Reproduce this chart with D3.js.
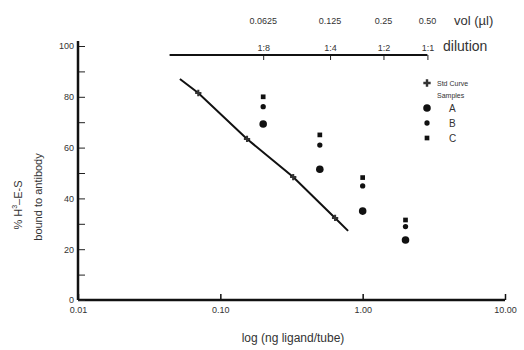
<!DOCTYPE html>
<html>
<head>
<meta charset="utf-8">
<script src="https://cdn.jsdelivr.net/npm/d3@7"></script>
<style>
  body { margin: 0; background: #fff; }
  text { font-family: "Liberation Sans", Arial, sans-serif; fill: #333; }
</style>
</head>
<body>
<svg id="chart"></svg>
<script>
// standard curve (ng ligand, % bound)
const stdNg = [0.052, 0.07, 0.154, 0.325, 0.64, 0.79];
const stdPct = [87, 81.5, 63.4, 48.4, 32.3, 27.2];
const stdMarked = [0.07, 0.154, 0.325, 0.64];

// samples
const sampleNg = [0.2, 0.5, 1.0, 2.0];
const sampleA = [69.3, 51.5, 35.0, 23.6];
const sampleB = [76.1, 61.0, 44.9, 28.9];
const sampleC = [80.0, 65.0, 48.2, 31.5];

const xTicks = [0.01, 0.1, 1, 10];
const yTicks = [0, 10, 20, 30, 40, 50, 60, 70, 80, 90, 100];

// top axis: dilution / volume
const topNg = [0.2, 0.59, 1.4, 2.85];
const topStart = 0.044;
const dilutionLabels = ["1:8", "1:4", "1:2", "1:1"];
const volLabels = ["0.0625", "0.125", "0.25", "0.50"];

const width = 524, height = 350;
const svg = d3.select("#chart").attr("width", width).attr("height", height);

const x = d3.scaleLog().domain([0.01, 10]).range([78, 505]);
const y = d3.scaleLinear().domain([0, 100]).range([300, 46]);

// bottom axis
const xAxis = svg.append("g")
  .attr("transform", `translate(0,${y(0)})`)
  .call(d3.axisBottom(x).tickValues(xTicks).tickSize(-6).tickPadding(7)
    .tickFormat(d3.format(".2f")));
xAxis.select(".domain").remove();
xAxis.selectAll("line").attr("stroke", "#111").attr("stroke-width", 1.5);
xAxis.selectAll("text").attr("font-size", 9);
svg.append("line")
  .attr("x1", x(0.01)).attr("x2", x(10))
  .attr("y1", y(0)).attr("y2", y(0))
  .attr("stroke", "#111").attr("stroke-width", 2.5);

// left axis
const yAxis = svg.append("g")
  .attr("transform", `translate(${x(0.01)},0)`)
  .call(d3.axisLeft(y).tickValues(yTicks).tickSize(-7).tickPadding(4)
    .tickFormat(d => d % 20 === 0 ? d : ""));
yAxis.select(".domain").remove();
yAxis.selectAll("line").attr("stroke", "#222").attr("stroke-width", 1);
yAxis.selectAll("text").attr("font-size", 9);
svg.append("line")
  .attr("x1", x(0.01)).attr("x2", x(0.01))
  .attr("y1", y(0)).attr("y2", y(100) - 5)
  .attr("stroke", "#111").attr("stroke-width", 2.5);

// top axis
const topAxis = svg.append("g")
  .attr("transform", "translate(0,55)")
  .call(d3.axisTop(x).tickValues(topNg).tickSize(-5).tickPadding(4)
    .tickFormat((d, i) => dilutionLabels[i]));
topAxis.select(".domain").remove();
topAxis.selectAll("line").attr("stroke", "#222").attr("stroke-width", 1);
topAxis.selectAll("text").attr("font-size", 9);
svg.append("line")
  .attr("x1", x(topStart)).attr("x2", x(topNg[topNg.length - 1]))
  .attr("y1", 55).attr("y2", 55)
  .attr("stroke", "#111").attr("stroke-width", 2);

svg.selectAll(".vol")
  .data(topNg)
  .enter()
  .append("text")
  .attr("class", "vol")
  .attr("x", d => x(d))
  .attr("y", 24)
  .attr("text-anchor", "middle")
  .attr("font-size", 9)
  .text((d, i) => volLabels[i]);

svg.append("text").attr("x", 454).attr("y", 25)
  .attr("font-size", 13).text("vol (µl)");
svg.append("text").attr("x", 443).attr("y", 51)
  .attr("font-size", 14).text("dilution");

// axis titles
svg.append("text")
  .attr("x", 293).attr("y", 342)
  .attr("text-anchor", "middle")
  .attr("font-size", 12)
  .text("log (ng ligand/tube)");

const yTitle = svg.append("text")
  .attr("transform", "translate(22,205) rotate(-90)")
  .attr("text-anchor", "middle")
  .attr("font-size", 11);
yTitle.append("tspan").text("% H");
yTitle.append("tspan").attr("font-size", 7).attr("dy", -5).text("3");
yTitle.append("tspan").attr("dy", 5).text("\u2013E-S");
svg.append("text")
  .attr("transform", "translate(42,197) rotate(-90)")
  .attr("text-anchor", "middle")
  .attr("font-size", 11)
  .text("bound to antibody");

// standard curve
const stdData = stdNg.map((d, i) => ({ ng: d, pct: stdPct[i] }));
const line = d3.line().x(d => x(d.ng)).y(d => y(d.pct));
svg.append("path")
  .datum(stdData)
  .attr("fill", "none")
  .attr("stroke", "#111")
  .attr("stroke-width", 2)
  .attr("d", line);

const plus = d3.symbol().type(d3.symbolCross).size(22);
svg.selectAll(".std")
  .data(stdData.filter(d => stdMarked.includes(d.ng)))
  .enter()
  .append("path")
  .attr("class", "std")
  .attr("transform", d => `translate(${x(d.ng)},${y(d.pct)})`)
  .attr("fill", "#333")
  .attr("d", plus);

// samples
function drawSamples(vals, sym) {
  svg.selectAll(null)
    .data(vals.map((v, i) => ({ ng: sampleNg[i], pct: v })))
    .enter()
    .append("path")
    .attr("transform", d => `translate(${x(d.ng)},${y(d.pct)})`)
    .attr("fill", "#111")
    .attr("d", sym);
}
const symA = d3.symbol().type(d3.symbolCircle).size(45);
const symB = d3.symbol().type(d3.symbolCircle).size(22);
const symC = d3.symbol().type(d3.symbolSquare).size(22);
drawSamples(sampleA, symA);
drawSamples(sampleB, symB);
drawSamples(sampleC, symC);

// legend
const legend = svg.append("g").attr("transform", "translate(427,83)");
legend.append("path").attr("d", d3.symbol().type(d3.symbolCross).size(30)).attr("fill", "#333");
legend.append("text").attr("x", 10).attr("y", 3).attr("font-size", 7).text("Std Curve");
legend.append("text").attr("x", 10).attr("y", 15).attr("font-size", 7).text("Samples");
const legItems = [["A", symA], ["B", symB], ["C", symC]];
legItems.forEach(([lab, sym], i) => {
  const yy = 25 + i * 15;
  legend.append("path").attr("transform", `translate(0,${yy})`).attr("d", sym).attr("fill", "#111");
  legend.append("text").attr("x", 22).attr("y", yy + 4).attr("font-size", 10).text(lab);
});
</script>
</body>
</html>
